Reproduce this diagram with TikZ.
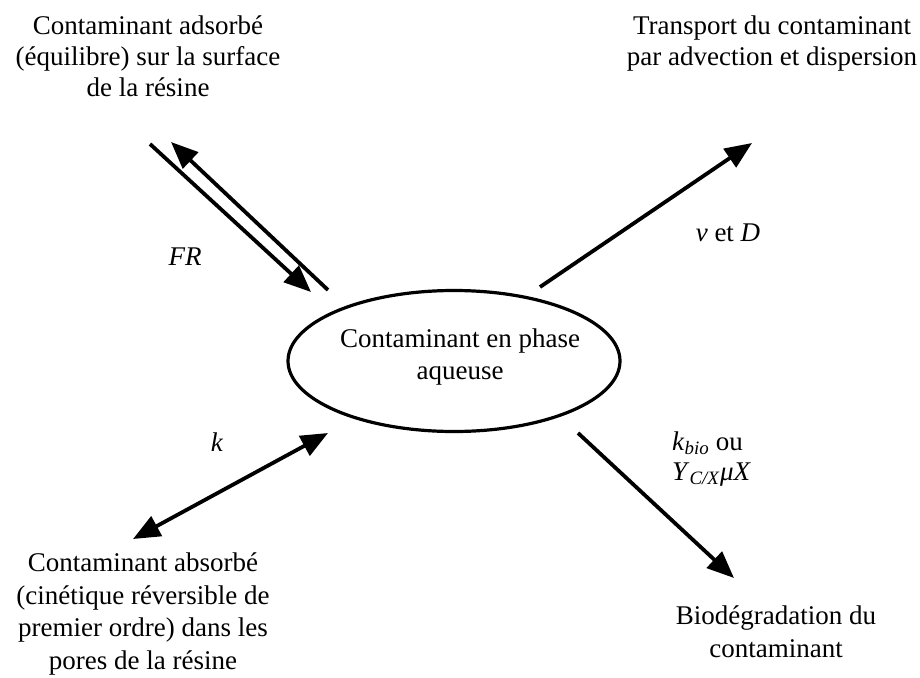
\documentclass[tikz,border=0pt]{standalone}
\usepackage{fontspec}
\setmainfont{Liberation Serif}
\usetikzlibrary{arrows.meta,shapes.geometric}
\tikzset{
  txt/.style={align=center,inner sep=0pt,anchor=north,font=\fontsize{27}{32}\selectfont},
  lbl/.style={inner sep=0pt,font=\fontsize{27}{32}\selectfont},
  arr/.style={line width=3.8pt,-{Triangle[length=27pt,width=22pt]}},
  darr/.style={line width=3.8pt,{Triangle[length=27pt,width=22pt]}-{Triangle[length=27pt,width=22pt]}},
  bub/.style={draw,line width=3.2pt,ellipse,minimum width=332pt,minimum height=141pt,inner sep=0pt}
}
\begin{document}
\begin{tikzpicture}[x=1pt,y=-1pt]
\path[use as bounding box] (0,0) rectangle (920,677);
\node[bub] (c) at (454,361) {};
\node[txt] (ct) at (460,329) {Contaminant en phase\\aqueuse};
\node[txt,font=\fontsize{27}{31}\selectfont] (tl) at (148,16) {Contaminant adsorbé\\(équilibre) sur la surface\\de la résine};
\node[txt,font=\fontsize{27}{31}\selectfont] (tr) at (772,16) {Transport du contaminant\\par advection et dispersion};
\node[txt,font=\fontsize{27}{32.5}\selectfont] (bl) at (143,553) {Contaminant absorbé\\(cinétique réversible de\\premier ordre) dans les\\pores de la résine};
\node[txt,font=\fontsize{27}{33}\selectfont] (br) at (776,606) {Biodégradation du\\contaminant};
\coordinate (a1s) at (150,144); \coordinate (a1e) at (311,292);
\coordinate (a2s) at (328,290); \coordinate (a2e) at (171,142);
\coordinate (a3s) at (540,287); \coordinate (a3e) at (752,143);
\coordinate (a4s) at (133,539); \coordinate (a4e) at (328,433);
\coordinate (a5s) at (578,433); \coordinate (a5e) at (734,578);
\draw[arr] (a1s) -- (a1e);
\draw[arr] (a2s) -- (a2e);
\draw[arr] (a3s) -- (a3e);
\draw[darr] (a4s) -- (a4e);
\draw[arr] (a5s) -- (a5e);
\node[lbl] (fr) at (185,257) {\textit{FR}};
\node[lbl] (kl) at (217,442) {\textit{k}};
\node[lbl] (vd) at (728,233) {\textit{ν} et \textit{D}};
\node[lbl,anchor=west] (kb) at (672,443) {\textit{k}\textsubscript{\textit{bio}} ou};
\node[lbl,anchor=west] (yc) at (672,475) {\textit{Y}\textsubscript{\textit{C/X}}\textit{μX}};
\end{tikzpicture}
\end{document}
